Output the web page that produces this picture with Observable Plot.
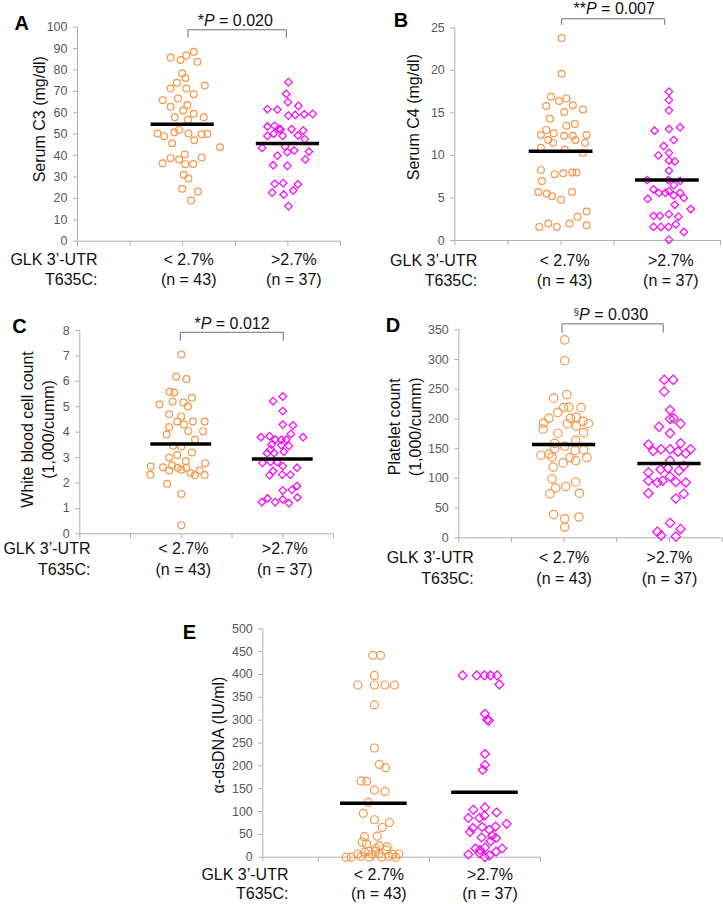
<!DOCTYPE html>
<html><head><meta charset="utf-8">
<script src="https://cdn.jsdelivr.net/npm/d3@7"></script>
<script src="https://cdn.jsdelivr.net/npm/@observablehq/plot@0.6"></script>
<style>
body{margin:0;background:#fff;}
#root{position:relative;width:723px;height:904px;overflow:hidden;}
#root svg{position:absolute;overflow:visible;}
</style></head><body><div id="root"></div>
<script>
// ---------- shared labels ----------
const categories = ["< 2.7%\n(n = 43)", ">2.7%\n(n = 37)"];
const categoryPos = [2, 4];
const xTitle = "GLK 3\u2019-UTR\nT635C:";

// ---------- A: Serum C3 ----------
const c3Low = [85.8,84.7,86.8,88.5,83.8,78.5,76.3,74.0,72.7,71.3,71.3,68.7,65.9,66.7,63.6,62.8,61.1,59.5,57.9,57.9,56.7,52.0,50.3,49.1,50.9,50.3,50.0,50.2,47.2,45.8,43.9,40.5,38.8,38.2,39.1,36.4,36.0,36.1,31.0,29.3,24.5,23.2,19.0];
const c3LowJitter = [-0.23,-0.04,0.07,0.21,0.28,-0.01,0.05,-0.11,0.42,-0.23,0.07,0.21,-0.38,-0.09,0.09,-0.23,0.01,0.21,-0.15,0.40,0.10,-0.07,-0.48,-0.35,-0.16,0.11,0.36,0.47,0.22,-0.20,0.71,0.04,-0.23,-0.07,0.36,-0.38,0.05,0.20,0.02,0.11,-0.01,0.29,0.16];
const c3High = [74.3,68.8,65.0,63.2,61.7,61.5,58.7,59.0,59.3,59.5,53.6,53.9,52.2,52.3,51.7,49.2,50.2,49.2,49.4,47.7,43.6,44.2,41.6,42.4,41.9,40.0,38.2,35.5,35.2,26.8,27.1,26.6,22.7,21.8,23.7,16.4,52.5];
const c3HighJitter = [0.01,-0.03,0.00,0.20,-0.39,-0.20,0.01,0.14,0.31,0.47,-0.39,-0.25,-0.14,0.07,0.29,-0.39,-0.27,-0.10,0.19,0.32,-0.49,-0.05,-0.01,0.12,0.40,-0.20,0.33,-0.28,-0.01,-0.25,-0.09,0.19,-0.30,-0.08,0.10,0.01,-0.17];
const c3Means = [54.7, 45.6];
const c3Ticks = d3.range(0, 101, 10);

// ---------- B: Serum C4 ----------
const c4Low = [23.8,19.6,16.9,16.7,16.4,15.8,15.9,15.4,15.1,14.3,13.5,13.7,13.0,12.6,12.4,12.3,12.3,12.4,11.8,11.5,11.8,11.5,10.9,10.7,10.3,8.3,7.8,7.9,8.0,8.0,7.0,5.7,5.5,5.2,5.7,4.8,3.4,2.8,2.0,2.0,1.6,1.6,1.8];
const c4LowJitter = [0.01,0.01,-0.19,0.10,-0.04,-0.28,0.22,0.41,0.06,-0.21,0.10,0.26,-0.28,-0.14,-0.38,0.06,0.22,0.48,-0.24,-0.15,0.27,0.45,-0.38,0.07,0.41,-0.38,-0.12,0.04,0.21,0.29,-0.36,-0.43,-0.27,-0.17,0.21,0.00,0.48,0.31,-0.24,0.16,-0.41,-0.08,0.48];
const c4High = [17.5,16.5,15.3,12.9,13.1,13.3,11.8,11.1,10.0,10.3,9.4,9.3,8.2,7.1,7.1,7.0,6.0,5.6,4.9,5.6,5.8,5.3,5.6,5.0,4.2,3.7,2.9,2.9,3.1,2.8,1.6,1.6,1.6,1.9,1.0,0.1,6.5];
const c4HighJitter = [0.03,0.03,0.03,-0.24,0.03,0.24,0.12,-0.07,-0.17,0.03,0.03,0.14,0.03,-0.38,0.02,0.24,-0.26,-0.16,-0.37,-0.04,0.03,0.12,0.24,0.31,0.14,0.44,-0.26,-0.14,0.03,0.21,-0.26,-0.12,0.02,0.16,0.31,0.03,0.12];
const c4Means = [10.5, 7.1];
const c4Ticks = d3.range(0, 26, 5);

// ---------- C: White blood cell count ----------
const wbcLow = [7.06,6.19,6.09,5.59,5.56,5.09,5.17,5.01,5.35,5.21,4.70,4.62,4.42,4.30,4.42,4.42,4.20,4.04,4.04,3.91,3.71,3.46,3.44,3.20,3.00,3.10,2.86,2.78,2.65,2.62,2.70,2.52,2.60,2.49,2.60,2.39,2.49,2.31,2.32,2.31,1.97,1.57,0.34];
const wbcLowJitter = [0.00,-0.10,0.10,-0.23,-0.14,-0.43,0.04,0.13,0.21,-0.17,-0.24,0.00,-0.08,0.05,0.23,0.46,-0.24,0.14,0.43,-0.29,0.27,-0.16,0.00,0.21,-0.24,-0.08,0.09,0.47,-0.60,-0.36,-0.18,0.00,0.10,-0.24,-0.07,0.18,0.36,0.27,-0.61,0.46,-0.28,0.00,0.00];
const wbcHigh = [5.40,5.22,4.83,4.30,4.26,3.93,3.80,3.84,3.71,3.70,3.71,3.80,3.51,3.49,3.46,3.33,3.17,3.17,3.23,2.79,2.83,2.82,2.66,2.60,2.47,2.30,2.33,2.32,1.88,1.73,1.70,1.39,1.25,1.25,1.35,1.21,1.43];
const wbcHighJitter = [0.00,-0.19,0.00,0.00,0.20,0.16,-0.43,-0.26,-0.15,-0.03,0.07,0.40,-0.22,-0.03,0.12,-0.24,-0.31,-0.17,0.02,-0.40,-0.24,-0.11,0.00,0.28,-0.19,-0.26,-0.01,0.15,0.28,0.18,0.00,-0.30,-0.41,-0.15,0.00,0.12,0.29];
const wbcMeans = [3.53, 2.94];
const wbcTicks = d3.range(0, 9, 1);

// ---------- D: Platelet count ----------
const pltLow = [333,298,241,235,219,219,220,211,201,193,183,201,203,192,196,192,188,176,177,164,159,154,150,148,139,141,147,136,135,130,135,126,119,99,84,86,94,74,75,39,32,35,18];
const pltLowJitter = [0.01,0.01,0.05,-0.20,0.32,-0.01,0.09,-0.12,-0.29,-0.39,-0.40,0.12,0.23,0.06,0.36,0.46,0.23,-0.12,0.37,0.22,-0.18,0.01,-0.18,0.37,-0.44,-0.29,0.21,-0.23,0.11,0.22,0.43,-0.02,-0.21,-0.23,-0.16,0.03,0.22,-0.27,0.29,-0.20,0.01,0.28,0.01];
const pltHigh = [266,266,246,215,200,201,192,187,176,157,159,146,149,149,145,142,149,130,121,115,117,113,110,103,93,96,96,94,93,75,66,74,25,10,15,4,2];
const pltHighJitter = [-0.10,0.07,-0.10,0.01,0.01,0.08,0.21,-0.20,0.01,-0.40,0.21,-0.31,-0.16,0.01,0.16,0.31,0.40,0.01,0.27,-0.17,-0.03,0.18,-0.40,0.01,-0.23,-0.40,-0.13,0.12,0.31,-0.40,0.12,0.27,0.01,-0.23,0.21,-0.16,0.12];
const pltMeans = [157, 125];
const pltTicks = d3.range(0, 351, 50);

// ---------- E: anti-dsDNA ----------
const dnaLow = [442,442,398,377,377,377,377,334,239,203,196,167,166,147,144,120,96,82,76,65,45,46,33,29,19,23,25,0,0,7,2,11,0,7,13,7,0,16,2,6,0,7,13];
const dnaLowJitter = [-0.02,0.12,0.01,-0.29,0.01,0.20,0.37,0.01,0.01,0.10,0.21,-0.23,-0.13,0.01,0.20,-0.10,-0.19,0.01,0.28,0.15,-0.17,0.06,-0.21,-0.13,0.03,0.24,0.10,-0.50,-0.41,-0.29,-0.23,-0.17,-0.09,-0.03,0.03,0.09,0.14,0.22,0.27,0.34,0.39,0.45,-0.09];
const dnaHigh = [398,398,398,398,398,378,314,301,299,226,202,191,109,104,98,86,86,91,73,64,60,67,55,66,43,47,35,42,19,16,19,12,21,6,0,4,9];
const dnaHighJitter = [-0.40,-0.15,-0.01,0.10,0.22,0.26,0.00,0.04,0.07,0.00,0.00,-0.04,0.00,-0.21,0.21,-0.30,-0.10,-0.01,0.39,-0.22,0.08,0.19,-0.27,-0.05,-0.06,0.13,0.10,0.20,-0.17,-0.09,0.31,0.20,0.00,-0.30,0.00,0.08,-0.10];
const dnaMeans = [118, 142];
const dnaTicks = d3.range(0, 501, 50);

// ---------- panel texts ----------
const panelLetters = ["A", "B", "C", "D", "E"];
const yTitles = ["Serum C3 (mg/dl)", "Serum C4 (mg/dl)", "White blood cell count\n(1,000/cumm)", "Platelet count\n(1,000/cumm)", "\u03b1-dsDNA (IU/ml)"];
const pLabels = ["*P = 0.020", "**P = 0.007", "*P = 0.012", "\u00a7P = 0.030", null];

// ---------- layout ----------
const FONT = "'Liberation Sans', Arial, Helvetica, sans-serif";
const ORANGE = "#F79646", MAGENTA = "#FF00FF", AXIS = "#B0B0B0", TICKTXT = "#595959", BRACKET = "#6f6f6f";

const panels = [
  {low: c3Low, lowJ: c3LowJitter, high: c3High, highJ: c3HighJitter, means: c3Means, ticks: c3Ticks,
   left: 0, top: 0, w: 360, h: 290, mL: 77, mR: 20, mT: 26.7, mB: 49.3, r: 3.4, lh: 1.26,
   catDx: 6, catDy: 9.6, xtDx: 20, letDx: -63, letDy: -3.7, tDx: -38.7, tDy: -15, pDx: 0, pDy: -6.8,
   bracket: [2.1, 3.97, 98.8, 95.3]},
  {low: c4Low, lowJ: c4LowJitter, high: c4High, highJ: c4HighJitter, means: c4Means, ticks: c4Ticks,
   left: 360, top: 0, w: 363, h: 290, mL: 94.3, mR: 3, mT: 27.3, mB: 50, r: 3.4, lh: 1.26,
   catDx: 3.5, catDy: 11.3, xtDx: 22.4, letDx: -61, letDy: -7.3, tDx: -42.6, tDy: -17, pDx: 0, pDy: -19.4,
   bracket: [2.01, 3.95, 26.06, 25.39]},
  {low: wbcLow, lowJ: wbcLowJitter, high: wbcHigh, highJ: wbcHighJitter, means: wbcMeans, ticks: wbcTicks,
   left: 0, top: 290, w: 360, h: 300, mL: 79.3, mR: 27, mT: 40, mB: 56.7, r: 3.4, lh: 1.26,
   catDx: 2, catDy: 6.3, xtDx: 10.7, letDx: -67.6, letDy: -4, tDx: -43, tDy: -2.7, pDx: 0, pDy: -6.8,
   bracket: [1.98, 4.01, 7.93, 7.61]},
  {low: pltLow, lowJ: pltLowJitter, high: pltHigh, highJ: pltHighJitter, means: pltMeans, ticks: pltTicks,
   left: 360, top: 290, w: 363, h: 300, mL: 98.3, mR: 1.3, mT: 39.3, mB: 52.7, r: 4.2, lh: 1.26,
   catDx: 0, catDy: 11.3, xtDx: 15, letDx: -73, letDy: -4.3, tDx: -55, tDy: -7, pDx: -6, pDy: -15.1,
   bracket: [1.96, 3.88, 360, 346]},
  {low: dnaLow, lowJ: dnaLowJitter, high: dnaHigh, highJ: dnaHighJitter, means: dnaMeans, ticks: dnaTicks,
   left: 190, top: 590, w: 370, h: 314, mL: 72.3, mR: 20, mT: 38.3, mB: 47.3, r: 4, lh: 1.2,
   catDx: 5, catDy: 9.4, xtDx: 25.7, letDx: -80, letDy: 3.7, tDx: -45.6, tDy: -8, pDx: 0, pDy: 0,
   bracket: null}
];

function styleP(svg) {
  svg.querySelectorAll("text").forEach(t => {
    if (t.querySelector("tspan")) return;
    const m = t.textContent.match(/^(.*?)P( = .*)$/);
    if (!m) return;
    const ns = "http://www.w3.org/2000/svg";
    t.textContent = "";
    if (m[1]) {
      const s = document.createElementNS(ns, "tspan");
      s.textContent = m[1];
      if (m[1] === "\u00a7") { s.setAttribute("font-size", "0.62em"); s.setAttribute("dy", "-0.5em"); }
      t.appendChild(s);
    }
    const p = document.createElementNS(ns, "tspan");
    p.textContent = "P"; p.setAttribute("font-style", "italic");
    if (m[1] === "\u00a7") p.setAttribute("dy", "0.31em");
    t.appendChild(p);
    const r = document.createElementNS(ns, "tspan");
    r.textContent = m[2];
    t.appendChild(r);
  });
}

const root = document.getElementById("root");
panels.forEach((p, k) => {
  const pts = p.low.map((v, i) => ({x: categoryPos[0] + p.lowJ[i], y: v}));
  const pts2 = p.high.map((v, i) => ({x: categoryPos[1] + p.highJ[i], y: v}));
  const yMax = p.ticks[p.ticks.length - 1];
  const marks = [
    Plot.ruleX([0], {stroke: AXIS, strokeWidth: 1}),
    Plot.ruleY([0], {stroke: AXIS, strokeWidth: 1}),
    Plot.axisY(p.ticks, {tickSize: 4, tickPadding: 6, fontSize: 12.5, fill: TICKTXT, stroke: AXIS, label: null}),
    Plot.axisX(d3.range(0, 6), {tickSize: 5, tickFormat: () => "", stroke: AXIS, label: null}),
    Plot.text(categories, {x: (d, i) => categoryPos[i], frameAnchor: "bottom", textAnchor: "middle", lineAnchor: "top",
      dx: p.catDx, dy: p.catDy, fontSize: 16, lineHeight: p.lh, fill: "#111"}),
    Plot.text([xTitle], {frameAnchor: "bottom-left", textAnchor: "end", lineAnchor: "top",
      dx: p.xtDx, dy: p.catDy, fontSize: 16, lineHeight: p.lh, fill: "#111"}),
    Plot.text([yTitles[k]], {frameAnchor: "left", rotate: -90, textAnchor: "middle", lineAnchor: "middle",
      dx: p.tDx, dy: p.tDy, fontSize: 16, lineHeight: 1.3, fill: "#111"}),
    Plot.text([panelLetters[k]], {frameAnchor: "top-left", textAnchor: "start", lineAnchor: "middle",
      dx: p.letDx, dy: p.letDy, fontSize: 20, fontWeight: "bold", fill: "#000"}),
    Plot.dot(pts, {x: "x", y: "y", r: p.r, stroke: ORANGE, fill: "none", strokeWidth: 1.2}),
    Plot.dot(pts2, {x: "x", y: "y", r: p.r, symbol: "diamond2", stroke: MAGENTA, fill: "none", strokeWidth: 1.2}),
    Plot.ruleY(p.means, {y: d => d, x1: (d, i) => categoryPos[i] - 0.6, x2: (d, i) => categoryPos[i] + 0.6,
      stroke: "#000", strokeWidth: 3.5})
  ];
  if (p.bracket) {
    const [bx1, bx2, byT, byL] = p.bracket;
    marks.push(Plot.line([[bx1, byL], [bx1, byT], [bx2, byT], [bx2, byL]],
      {x: d => d[0], y: d => d[1], stroke: BRACKET, strokeWidth: 1}));
    marks.push(Plot.text([{x: 3, label: pLabels[k]}], {x: "x", text: "label", frameAnchor: "top",
      textAnchor: "middle", lineAnchor: "middle", dx: p.pDx, dy: p.pDy, fontSize: 16, fill: "#111"}));
  }
  const svg = Plot.plot({
    width: p.w, height: p.h,
    marginLeft: p.mL, marginRight: p.mR, marginTop: p.mT, marginBottom: p.mB,
    x: {domain: [0, 5], label: null},
    y: {domain: [0, yMax], label: null},
    style: {fontFamily: FONT, overflow: "visible", background: "transparent", maxWidth: "none"},
    marks
  });
  styleP(svg);
  svg.style.left = p.left + "px";
  svg.style.top = p.top + "px";
  root.appendChild(svg);
});
</script>
</body></html>
